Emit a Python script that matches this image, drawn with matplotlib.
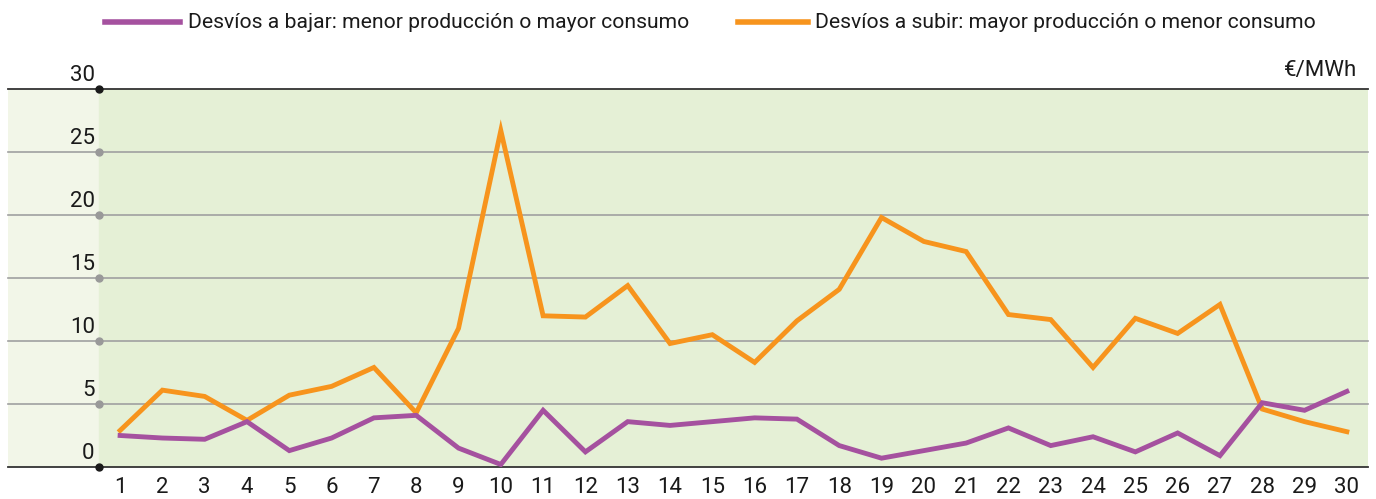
import numpy as np
import matplotlib.pyplot as plt
from matplotlib.lines import Line2D

plt.rcParams['font.family'] = ['Roboto', 'DejaVu Sans']

# Days of the month
dias = np.arange(1, 31)

# Desvios a bajar (purple) and a subir (orange), EUR/MWh
bajar = [2.5, 2.3, 2.2, 3.6, 1.3, 2.3, 3.9, 4.1, 1.5, 0.2,
         4.5, 1.2, 3.6, 3.3, 3.6, 3.9, 3.8, 1.7, 0.7, 1.3,
         1.9, 3.1, 1.7, 2.4, 1.2, 2.7, 0.9, 5.1, 4.5, 6.0]
subir = [2.9, 6.1, 5.6, 3.7, 5.7, 6.4, 7.9, 4.3, 11.0, 26.7,
         12.0, 11.9, 14.4, 9.8, 10.5, 8.3, 11.6, 14.1, 19.8, 17.9,
         17.1, 12.1, 11.7, 7.9, 11.8, 10.6, 12.9, 4.6, 3.6, 2.8]
yticks = [0, 5, 10, 15, 20, 25, 30]

label_bajar = 'Desvíos a bajar: menor producción o mayor consumo'
label_subir = 'Desvíos a subir: mayor producción o menor consumo'

col_bajar = '#a5519f'
col_subir = '#f7941d'
txt = '#1a1a1a'

W, H = 1376, 499
fig = plt.figure(figsize=(W / 100, H / 100), dpi=100)
ax = fig.add_axes([8 / W, 32 / H, 1360 / W, 378 / H])

x0, x1 = -1.65, 30.5
ax.set_xlim(x0, x1)
ax.set_ylim(0, 30)

# background bands
ax.axvspan(x0, 0.5, color='#f2f6e8', zorder=0)
ax.axvspan(0.5, x1, color='#e5f0d6', zorder=0)

# gridlines with dots on the axis
for v in yticks:
    edge = v in (0, 30)
    ax.axhline(v, color='#333333' if edge else '#a0a0a0',
               lw=1.3 if edge else 1.2, zorder=1, clip_on=False)
    ax.plot(0.5, v, 'o', ms=5, color=txt if edge else '#999999',
            zorder=4, clip_on=False)
    ax.text(0.4, v + 0.25, str(v), ha='right', va='bottom', fontsize=16,
            color=txt)

ax.plot(dias, subir, color=col_subir, lw=3.5, solid_joinstyle='miter', zorder=3)
ax.plot(dias, bajar, color=col_bajar, lw=3.5, solid_joinstyle='miter', zorder=3)

for d in dias:
    ax.text(d, -1.6, str(d), ha='center', va='center', fontsize=16, color=txt)

ax.text(30.25, 30.6, '€/MWh', ha='right', va='bottom', fontsize=16, color=txt)

for s in ax.spines.values():
    s.set_visible(False)
ax.set_xticks([])
ax.set_yticks([])

# legend drawn in figure pixels
ly = 1 - 22 / H
for (xa, xb, xt), lab, col in [((105, 180, 188), label_bajar, col_bajar),
                               ((738, 808, 815), label_subir, col_subir)]:
    fig.add_artist(Line2D([xa / W, xb / W], [ly, ly], color=col, lw=4,
                          transform=fig.transFigure))
    fig.text(xt / W, ly, lab, ha='left', va='center', fontsize=15.2, color=txt)

fig.savefig('out.png', dpi=100)
